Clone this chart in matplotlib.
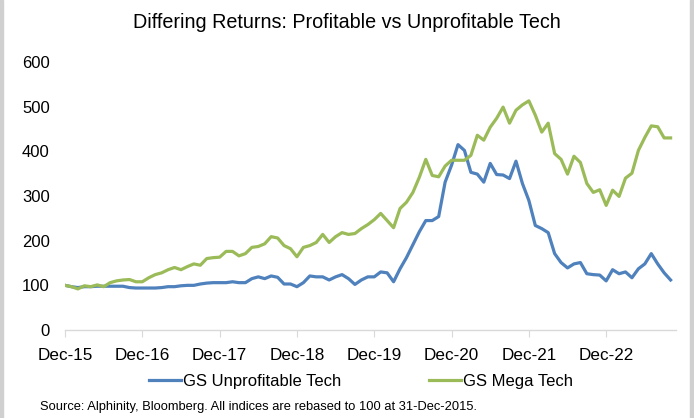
import numpy as np
import matplotlib
matplotlib.use("Agg")
import matplotlib.pyplot as plt
from matplotlib.patches import Rectangle

plt.rcParams['font.family'] = ['Liberation Sans', 'DejaVu Sans']

# monthly index values, Dec-15 .. Oct-23 (rebased to 100)
unprofitable = [100, 97, 95, 97, 97, 98, 98, 98, 98, 98, 95, 94,
                94, 94, 94, 95, 97, 97, 99, 100, 100, 103, 105, 106,
                106, 106, 108, 106, 106, 115, 119, 115, 121, 118, 103, 103,
                97, 106, 121, 119, 119, 112, 119, 124, 115, 102, 112, 119,
                119, 130, 128, 108, 137, 162, 191, 220, 245, 245, 254, 331,
                369, 415, 402, 353, 349, 331, 373, 348, 347, 339, 378, 328,
                290, 234, 227, 218, 171, 151, 139, 148, 151, 126, 124, 123,
                110, 135, 126, 130, 117, 137, 148, 171, 148, 128, 112]
mega_tech = [100, 97, 92, 99, 97, 101, 97, 106, 110, 112, 113, 108,
             108, 117, 124, 128, 135, 140, 135, 142, 148, 145, 160, 162,
             163, 176, 176, 166, 171, 185, 187, 193, 209, 206, 189, 182,
             164, 185, 189, 196, 214, 196, 209, 218, 214, 216, 227, 236,
             247, 261, 245, 229, 272, 286, 308, 342, 382, 346, 343, 367,
             380, 380, 380, 391, 436, 425, 454, 474, 499, 463, 492, 504,
             513, 481, 443, 463, 395, 382, 349, 389, 375, 328, 308, 314,
             279, 313, 299, 340, 351, 402, 431, 457, 455, 430, 430]
tick_labels = ['Dec-15', 'Dec-16', 'Dec-17', 'Dec-18', 'Dec-19',
               'Dec-20', 'Dec-21', 'Dec-22']

months = np.arange(len(mega_tech))

fig = plt.figure(figsize=(6.94, 4.18), dpi=100)
ax = fig.add_axes([0.0937, 0.2105, 0.880, 0.6412])

ax.plot(months, unprofitable, color='#4F81BD', lw=2.3, label='GS Unprofitable Tech',
        solid_joinstyle='round')
ax.plot(months, mega_tech, color='#9BBB59', lw=2.3, label='GS Mega Tech',
        solid_joinstyle='round')

ax.set_xlim(0, 94.8)
ax.set_ylim(0, 600)
ax.set_yticks(range(0, 601, 100))
ax.set_xticks(range(0, 85, 12))
ax.set_xticklabels(tick_labels)

for side in ['top', 'right', 'left']:
    ax.spines[side].set_visible(False)
ax.spines['bottom'].set_color('#D9D9D9')
ax.spines['bottom'].set_linewidth(1.0)
ax.tick_params(axis='y', length=0, labelsize=12, pad=11)
ax.tick_params(axis='x', length=5, color='#D9D9D9', labelsize=12.3, pad=8, direction='out')

fig.text(0.5, 0.945, 'Differing Returns: Profitable vs Unprofitable Tech',
         ha='center', va='center', fontsize=14.2)

fig.legend(loc='center', bbox_to_anchor=(0.52, 0.088), ncol=2, frameon=False,
           fontsize=12, handlelength=1.9, handletextpad=0.1, columnspacing=5.3)

fig.text(0.058, 0.026, 'Source: Alphinity, Bloomberg. All indices are rebased to 100 at 31-Dec-2015.',
         ha='left', va='center', fontsize=9.3)

# light grey frame edges like the screenshot
fig.patches.append(Rectangle((0, 0), 0.004, 1, transform=fig.transFigure,
                             color='#D0D0D0', zorder=0))
fig.patches.append(Rectangle((0.994, 0), 0.006, 1, transform=fig.transFigure,
                             color='#D0D0D0', zorder=0))

fig.savefig('out.png', dpi=100)
